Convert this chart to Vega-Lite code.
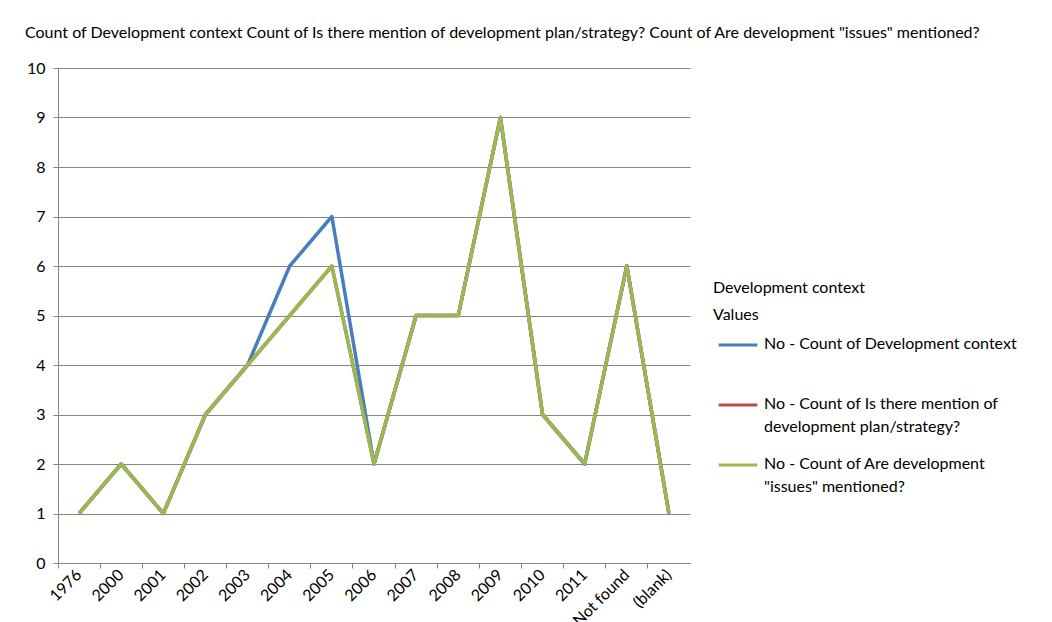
{
  "$schema": "https://vega.github.io/schema/vega-lite/v6.json",
  "autosize": "none",
  "width": 632,
  "height": 495,
  "padding": {"left": 58, "top": 68, "right": 362, "bottom": 59},
  "background": "white",
  "title": {
    "text": "Count of Development context   Count of Is there mention of development plan/strategy?   Count of Are development \"issues\" mentioned?",
    "anchor": "start",
    "frame": "group",
    "dx": -33,
    "offset": 19,
    "font": "Lato",
    "fontSize": 16,
    "fontWeight": "normal",
    "color": "black"
  },
  "config": {
    "view": {"stroke": null},
    "font": "Lato"
  },
  "data": {
    "values": [
      {"cat": "1976", "series": "No - Count of Development context", "value": 1},
      {"cat": "2000", "series": "No - Count of Development context", "value": 2},
      {"cat": "2001", "series": "No - Count of Development context", "value": 1},
      {"cat": "2002", "series": "No - Count of Development context", "value": 3},
      {"cat": "2003", "series": "No - Count of Development context", "value": 4},
      {"cat": "2004", "series": "No - Count of Development context", "value": 6},
      {"cat": "2005", "series": "No - Count of Development context", "value": 7},
      {"cat": "2006", "series": "No - Count of Development context", "value": 2},
      {"cat": "2007", "series": "No - Count of Development context", "value": 5},
      {"cat": "2008", "series": "No - Count of Development context", "value": 5},
      {"cat": "2009", "series": "No - Count of Development context", "value": 9},
      {"cat": "2010", "series": "No - Count of Development context", "value": 3},
      {"cat": "2011", "series": "No - Count of Development context", "value": 2},
      {"cat": "Not found", "series": "No - Count of Development context", "value": 6},
      {"cat": "(blank)", "series": "No - Count of Development context", "value": 1},
      {"cat": "1976", "series": "No - Count of Is there mention of development plan/strategy?", "value": 1},
      {"cat": "2000", "series": "No - Count of Is there mention of development plan/strategy?", "value": 2},
      {"cat": "2001", "series": "No - Count of Is there mention of development plan/strategy?", "value": 1},
      {"cat": "2002", "series": "No - Count of Is there mention of development plan/strategy?", "value": 3},
      {"cat": "2003", "series": "No - Count of Is there mention of development plan/strategy?", "value": 4},
      {"cat": "2004", "series": "No - Count of Is there mention of development plan/strategy?", "value": 5},
      {"cat": "2005", "series": "No - Count of Is there mention of development plan/strategy?", "value": 6},
      {"cat": "2006", "series": "No - Count of Is there mention of development plan/strategy?", "value": 2},
      {"cat": "2007", "series": "No - Count of Is there mention of development plan/strategy?", "value": 5},
      {"cat": "2008", "series": "No - Count of Is there mention of development plan/strategy?", "value": 5},
      {"cat": "2009", "series": "No - Count of Is there mention of development plan/strategy?", "value": 9},
      {"cat": "2010", "series": "No - Count of Is there mention of development plan/strategy?", "value": 3},
      {"cat": "2011", "series": "No - Count of Is there mention of development plan/strategy?", "value": 2},
      {"cat": "Not found", "series": "No - Count of Is there mention of development plan/strategy?", "value": 6},
      {"cat": "(blank)", "series": "No - Count of Is there mention of development plan/strategy?", "value": 1},
      {"cat": "1976", "series": "No - Count of Are development \"issues\" mentioned?", "value": 1},
      {"cat": "2000", "series": "No - Count of Are development \"issues\" mentioned?", "value": 2},
      {"cat": "2001", "series": "No - Count of Are development \"issues\" mentioned?", "value": 1},
      {"cat": "2002", "series": "No - Count of Are development \"issues\" mentioned?", "value": 3},
      {"cat": "2003", "series": "No - Count of Are development \"issues\" mentioned?", "value": 4},
      {"cat": "2004", "series": "No - Count of Are development \"issues\" mentioned?", "value": 5},
      {"cat": "2005", "series": "No - Count of Are development \"issues\" mentioned?", "value": 6},
      {"cat": "2006", "series": "No - Count of Are development \"issues\" mentioned?", "value": 2},
      {"cat": "2007", "series": "No - Count of Are development \"issues\" mentioned?", "value": 5},
      {"cat": "2008", "series": "No - Count of Are development \"issues\" mentioned?", "value": 5},
      {"cat": "2009", "series": "No - Count of Are development \"issues\" mentioned?", "value": 9},
      {"cat": "2010", "series": "No - Count of Are development \"issues\" mentioned?", "value": 3},
      {"cat": "2011", "series": "No - Count of Are development \"issues\" mentioned?", "value": 2},
      {"cat": "Not found", "series": "No - Count of Are development \"issues\" mentioned?", "value": 6},
      {"cat": "(blank)", "series": "No - Count of Are development \"issues\" mentioned?", "value": 1}
    ]
  },
  "mark": {"type": "line", "strokeWidth": 3.5, "strokeJoin": "round"},
  "encoding": {
    "x": {
      "field": "cat",
      "type": "ordinal",
      "sort": null,
      "bandPosition": 0.5,
      "scale": {"type": "band", "paddingInner": 0, "paddingOuter": 0},
      "axis": {
        "title": null,
        "labelAngle": -45,
        "labelAlign": "right",
        "labelBaseline": "middle",
        "labelFontSize": 16,
        "labelColor": "black",
        "labelPadding": 4,
        "bandPosition": 0,
        "domainColor": "#868686",
        "tickColor": "#868686",
        "tickSize": 5,
        "grid": false
      }
    },
    "y": {
      "field": "value",
      "type": "quantitative",
      "scale": {"domain": [0, 10], "nice": false},
      "axis": {
        "title": null,
        "values": [0, 1, 2, 3, 4, 5, 6, 7, 8, 9, 10],
        "labelFontSize": 16,
        "labelColor": "black",
        "labelPadding": 8,
        "domainColor": "#868686",
        "tickColor": "#868686",
        "tickSize": 5,
        "gridColor": "#868686",
        "gridWidth": 1
      }
    },
    "color": {
      "field": "series",
      "type": "nominal",
      "sort": null,
      "scale": {
        "domain": [
          "No - Count of Development context",
          "No - Count of Is there mention of development plan/strategy?",
          "No - Count of Are development \"issues\" mentioned?"
        ],
        "range": ["#4A7EBB", "#BE4B48", "#98B954"]
      },
      "legend": {
        "orient": "none",
        "legendX": 655,
        "legendY": 212,
        "title": ["Development context", "Values"],
        "titleFontSize": 16,
        "titleFontWeight": "normal",
        "titleColor": "black",
        "titleLineHeight": 27,
        "titlePadding": 1,
        "labelFontSize": 16,
        "labelColor": "black",
        "labelLimit": 400,
        "labelBaseline": "top",
        "labelOffset": 5,
        "labelExpr": "datum.label == 'No - Count of Is there mention of development plan/strategy?' ? ['No - Count of Is there mention of', 'development plan/strategy?'] : datum.label == 'No - Count of Are development \"issues\" mentioned?' ? ['No - Count of Are development', '\"issues\" mentioned?'] : [datum.label, ' ']",
        "symbolType": "stroke",
        "symbolStrokeWidth": 3,
        "symbolSize": 1500,
        "symbolOffset": 4,
        "rowPadding": 9,
        "encode": {
          "labels": {"update": {"lineHeight": {"value": 23}, "dy": {"value": -9}}}
        }
      }
    }
  }
}
